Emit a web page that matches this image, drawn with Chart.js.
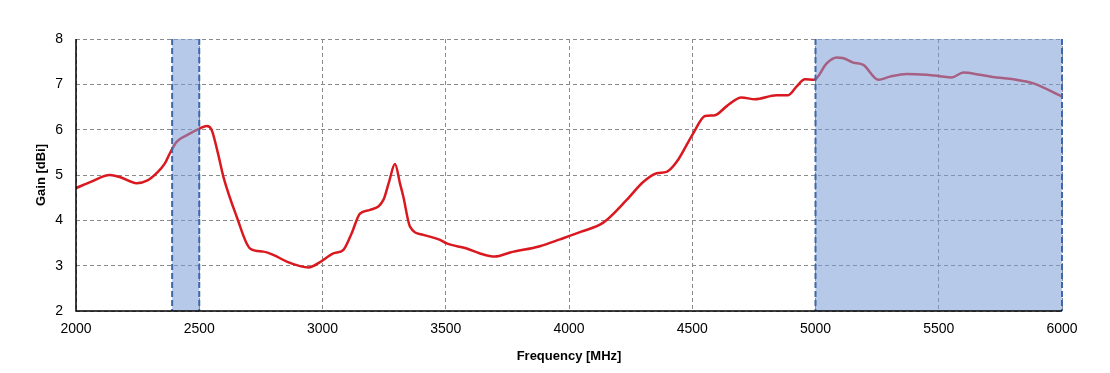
<!DOCTYPE html>
<html>
<head>
<meta charset="utf-8">
<script src="https://cdn.jsdelivr.net/npm/chart.js@4.4.1/dist/chart.umd.min.js"></script>
<style>
  html, body { margin: 0; padding: 0; background: #fff; }
  #wrap { width: 1110px; height: 373px; position: relative; }
</style>
</head>
<body>
<div id="wrap"><canvas id="myChart"></canvas></div>
<script>
// frequency (MHz) and gain (dBi)
var freq = [2000, 2060, 2138, 2180, 2246, 2290, 2327, 2360, 2381, 2408, 2450, 2503, 2530, 2550, 2575,
            2598, 2652, 2706, 2760, 2800, 2855, 2909, 2943, 2990, 3044, 3085, 3118, 3152, 3193, 3247,
            3270, 3294, 3315, 3328, 3355, 3409, 3477, 3504, 3585, 3639, 3700, 3761, 3882, 3963, 4050,
            4139, 4234, 4302, 4356, 4396, 4437, 4504, 4552, 4592, 4640, 4700, 4754, 4842, 4889, 4923,
            4957, 4994, 5045, 5086, 5110, 5153, 5194, 5255, 5302, 5370, 5451, 5505, 5552, 5600, 5667,
            5735, 5803, 5884, 6000];
var gain = [4.71, 4.85, 5.00, 4.95, 4.82, 4.88, 5.04, 5.25, 5.48, 5.73, 5.88, 6.03, 6.08, 6.00, 5.50,
            4.96, 4.08, 3.38, 3.31, 3.24, 3.09, 2.99, 2.96, 3.08, 3.27, 3.35, 3.71, 4.15, 4.23, 4.45,
            4.85, 5.24, 4.80, 4.52, 3.86, 3.68, 3.57, 3.49, 3.38, 3.27, 3.20, 3.29, 3.43, 3.58, 3.75,
            3.95, 4.45, 4.85, 5.04, 5.07, 5.29, 5.92, 6.30, 6.32, 6.52, 6.71, 6.67, 6.76, 6.76, 6.95,
            7.11, 7.10, 7.46, 7.59, 7.58, 7.48, 7.43, 7.10, 7.17, 7.23, 7.21, 7.18, 7.15, 7.26, 7.21,
            7.15, 7.11, 7.02, 6.73];

// shaded bands (MHz)
var bandStart = [2390, 5000];
var bandEnd = [2500, 6000];

var points = freq.map(function (f, i) { return { x: f, y: gain[i] }; });

// draws the blue bands on top of the curve, like the original
var bandPlugin = {
  id: 'bands',
  afterDatasetsDraw: function (chart) {
    var ctx = chart.ctx;
    var xs = chart.scales.x;
    var area = chart.chartArea;
    ctx.save();
    for (var i = 0; i < bandStart.length; i++) {
      var x1 = xs.getPixelForValue(bandStart[i]);
      var x2 = xs.getPixelForValue(bandEnd[i]);
      ctx.fillStyle = 'rgba(124,157,213,0.55)';
      ctx.fillRect(x1, area.top, x2 - x1, area.bottom - area.top);
      ctx.strokeStyle = '#3f68a8';
      ctx.lineWidth = 2;
      ctx.setLineDash([6, 3]);
      ctx.beginPath();
      ctx.moveTo(x1, area.top);
      ctx.lineTo(x1, area.bottom);
      ctx.moveTo(x2, area.top);
      ctx.lineTo(x2, area.bottom);
      ctx.stroke();
    }
    ctx.restore();
  }
};

// solid black axis lines on the left and bottom
var axisPlugin = {
  id: 'axes',
  afterDraw: function (chart) {
    var ctx = chart.ctx;
    var a = chart.chartArea;
    ctx.save();
    ctx.strokeStyle = '#000';
    ctx.lineWidth = 1.5;
    ctx.beginPath();
    ctx.moveTo(a.left, a.top);
    ctx.lineTo(a.left, a.bottom);
    ctx.lineTo(a.right, a.bottom);
    ctx.stroke();
    ctx.restore();
  }
};

var ctx = document.getElementById('myChart').getContext('2d');
new Chart(ctx, {
  type: 'line',
  data: {
    datasets: [{
      data: points,
      borderColor: '#d9181f',
      borderWidth: 2.5,
      pointRadius: 0,
      fill: false,
      cubicInterpolationMode: 'monotone'
    }]
  },
  options: {
    responsive: true,
    maintainAspectRatio: false,
    animation: false,
    layout: { padding: { top: 39, right: 48, left: 30, bottom: 0 } },
    plugins: {
      legend: { display: false },
      tooltip: { enabled: false }
    },
    scales: {
      x: {
        type: 'linear',
        min: 2000,
        max: 6000,
        ticks: { stepSize: 500, color: '#000', padding: 10, font: { family: 'Liberation Sans', size: 14 },
                 callback: function (v) { return String(v); } },
        grid: { color: '#8a8a8a', drawTicks: false },
        border: { display: false, dash: [4, 3] },
        title: { display: true, text: 'Frequency [MHz]', color: '#000', padding: { top: 0, bottom: 9 },
                 font: { family: 'Liberation Sans', size: 13, weight: 'bold' } },
        afterFit: function (scale) { scale.height = 62; }
      },
      y: {
        min: 2,
        max: 8,
        ticks: { stepSize: 1, color: '#000', padding: 13, font: { family: 'Liberation Sans', size: 14 } },
        grid: { color: '#8a8a8a', drawTicks: false },
        border: { display: false, dash: [4, 3] },
        title: { display: true, text: 'Gain [dBi]', color: '#000', padding: { bottom: 0 },
                 font: { family: 'Liberation Sans', size: 13, weight: 'bold' } },
        afterFit: function (scale) { scale.width = 46; }
      }
    }
  },
  plugins: [bandPlugin, axisPlugin]
});
</script>
</body>
</html>
